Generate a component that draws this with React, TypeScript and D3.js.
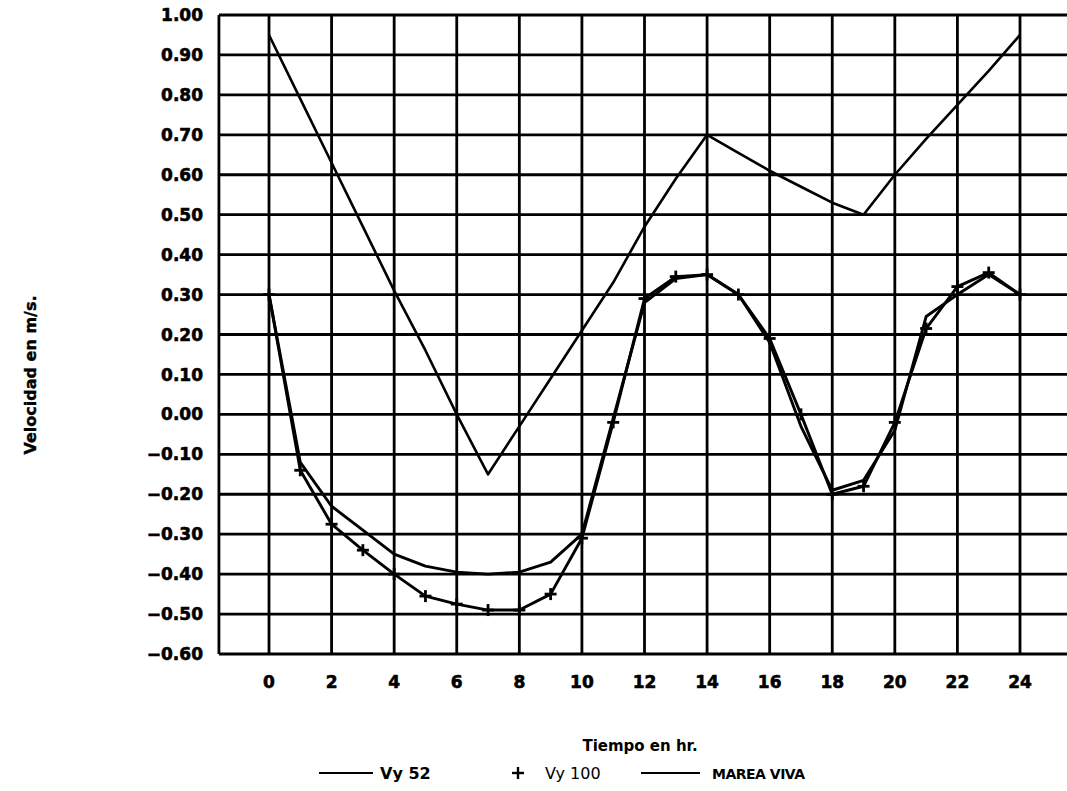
import React from "react";
import * as d3 from "d3";

const hours = [0, 1, 2, 3, 4, 5, 6, 7, 8, 9, 10, 11, 12, 13, 14, 15, 16, 17, 18, 19, 20, 21, 22, 23, 24];
const vy52 = [0.30, -0.12, -0.23, -0.29, -0.35, -0.38, -0.395, -0.40, -0.395, -0.37, -0.30, -0.01, 0.28, 0.34, 0.35, 0.30, 0.18, -0.03, -0.19, -0.165, -0.04, 0.245, 0.30, 0.35, 0.30];
const vy100 = [0.30, -0.14, -0.275, -0.34, -0.40, -0.455, -0.475, -0.49, -0.49, -0.45, -0.31, -0.02, 0.29, 0.345, 0.35, 0.30, 0.19, 0.00, -0.20, -0.18, -0.02, 0.215, 0.32, 0.355, 0.30];
const mareaViva = [0.95, 0.79, 0.63, 0.47, 0.31, 0.16, 0.00, -0.15, -0.03, 0.09, 0.21, 0.33, 0.47, 0.59, 0.70, 0.655, 0.61, 0.57, 0.53, 0.50, 0.60, 0.69, 0.775, 0.86, 0.95];

const xTicks = [0, 2, 4, 6, 8, 10, 12, 14, 16, 18, 20, 22, 24];
const yTicks = [1.0, 0.9, 0.8, 0.7, 0.6, 0.5, 0.4, 0.3, 0.2, 0.1, 0.0, -0.1, -0.2, -0.3, -0.4, -0.5, -0.6];

const xTitle = "Tiempo en hr.";
const yTitle = "Velocidad en m/s.";
const legendNames = ["Vy 52", "Vy 100", "MAREA VIVA"];

const W = 1067;
const H = 791;
const FONT = "'DejaVu Sans', 'Liberation Sans', sans-serif";

export default function App() {
  const x = d3.scaleLinear().domain([0, 24]).range([269, 1020]);
  const y = d3.scaleLinear().domain([-0.6, 1.0]).range([654, 15]);
  const xLeft = x(-1.6);
  const xRight = x(25.6);

  const line = d3
    .line<number>()
    .x((_, i) => x(hours[i]))
    .y((d) => y(d));

  const fmt = (v: number) => {
    const s = Math.abs(v).toFixed(2);
    return v < -1e-9 ? "\u2212" + s : s;
  };

  const stroke = "#000";

  return (
    <svg
      width={W}
      height={H}
      style={{ position: "absolute", left: 0, top: 0, background: "#fff" }}
      fontFamily={FONT}
    >
      <rect x={0} y={0} width={W} height={H} fill="#fff" />
      {/* grid */}
      <g stroke={stroke} strokeWidth={2.8}>
        {yTicks.map((t) => (
          <line key={"h" + t} x1={xLeft} x2={xRight} y1={y(t)} y2={y(t)} />
        ))}
        <line x1={xLeft} x2={xLeft} y1={y(1.0)} y2={y(-0.6)} />
        {xTicks.map((t) => (
          <line key={"v" + t} x1={x(t)} x2={x(t)} y1={y(1.0)} y2={y(-0.6)} />
        ))}
      </g>
      {/* y tick labels */}
      <g fontSize={17} fontWeight="bold" textAnchor="end" stroke="#000" strokeWidth={0.6}>
        {yTicks.map((t) => (
          <text key={"yl" + t} x={203} y={y(t)} dy="0.36em">
            {fmt(t)}
          </text>
        ))}
      </g>
      {/* x tick labels */}
      <g fontSize={17} fontWeight="bold" textAnchor="middle" stroke="#000" strokeWidth={0.6}>
        {xTicks.map((t) => (
          <text key={"xl" + t} x={x(t)} y={688}>
            {t}
          </text>
        ))}
      </g>
      {/* series */}
      <path d={line(mareaViva) || ""} fill="none" stroke={stroke} strokeWidth={2.6} strokeLinejoin="round" />
      <path d={line(vy52) || ""} fill="none" stroke={stroke} strokeWidth={2.9} strokeLinejoin="round" />
      <path d={line(vy100) || ""} fill="none" stroke={stroke} strokeWidth={2.9} strokeLinejoin="round" />
      <g stroke={stroke} strokeWidth={2.8}>
        {vy100.map((v, i) => (
          <g key={"m" + i}>
            <line x1={x(hours[i]) - 6} x2={x(hours[i]) + 6} y1={y(v)} y2={y(v)} />
            <line x1={x(hours[i])} x2={x(hours[i])} y1={y(v) - 6} y2={y(v) + 6} />
          </g>
        ))}
      </g>
      {/* axis titles */}
      <text x={640} y={751} fontSize={15} fontWeight="bold" textAnchor="middle">
        {xTitle}
      </text>
      <text
        transform={`translate(36, 375) rotate(-90)`}
        fontSize={16}
        fontWeight="bold"
        textAnchor="middle"
        stroke="#000"
        strokeWidth={0.4}
      >
        {yTitle}
      </text>
      {/* legend */}
      <g fontSize={16} fontWeight="bold">
        <line x1={319} x2={373} y1={773} y2={773} stroke={stroke} strokeWidth={2} />
        <text x={380} y={779}>{legendNames[0]}</text>
        <line x1={512} x2={524} y1={773} y2={773} stroke={stroke} strokeWidth={2.4} />
        <line x1={518} x2={518} y1={767} y2={779} stroke={stroke} strokeWidth={2.4} />
        <text x={545} y={779} fontWeight="normal">{legendNames[1]}</text>
        <line x1={641} x2={700} y1={773} y2={773} stroke={stroke} strokeWidth={2} />
        <text x={712} y={779} fontSize={14} letterSpacing={-0.5}>{legendNames[2]}</text>
      </g>
    </svg>
  );
}
